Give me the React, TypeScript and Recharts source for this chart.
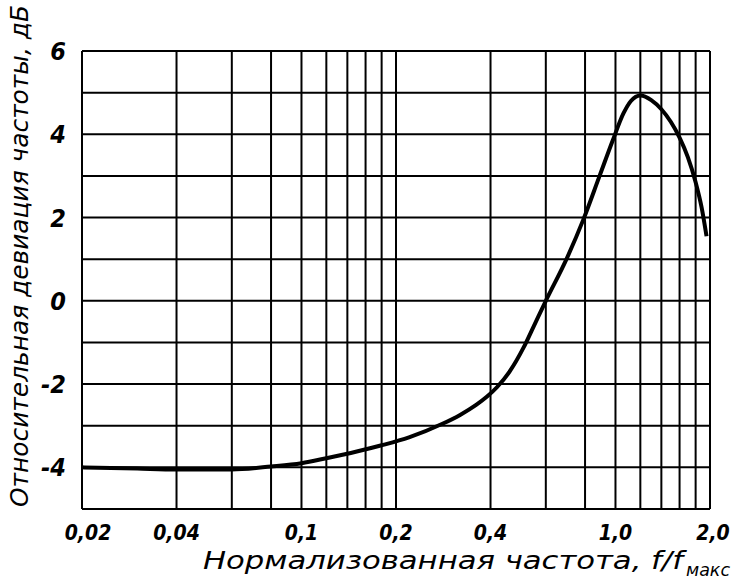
import React from "react";
import { LineChart, Line, XAxis, YAxis, CartesianGrid } from "recharts";

const freq = [0.02, 0.03, 0.04, 0.06, 0.08, 0.1, 0.12, 0.15, 0.18, 0.22, 0.28, 0.32, 0.36, 0.39, 0.42, 0.46, 0.51, 0.55, 0.6, 0.7, 0.79, 0.89, 0.98, 1.06, 1.12, 1.2, 1.3, 1.4, 1.5, 1.6, 1.7, 1.8, 1.88, 1.95];
const deviation = [-4.0, -4.03, -4.05, -4.05, -3.98, -3.9, -3.78, -3.62, -3.47, -3.28, -2.96, -2.74, -2.5, -2.3, -2.07, -1.7, -1.12, -0.6, 0.0, 1.02, 1.95, 3.0, 3.85, 4.5, 4.8, 4.93, 4.82, 4.6, 4.3, 3.92, 3.45, 2.85, 2.25, 1.55];

const xGrid = [0.02, 0.04, 0.06, 0.08, 0.1, 0.12, 0.14, 0.16, 0.18, 0.2, 0.4, 0.6, 0.8, 1.0, 1.2, 1.4, 1.6, 1.8, 2.0];
const xLabels: Record<string, string> = { "0.02": "0,02", "0.04": "0,04", "0.1": "0,1", "0.2": "0,2", "0.4": "0,4", "1": "1,0", "2": "2,0" };
const yGrid = [-5, -4, -3, -2, -1, 0, 1, 2, 3, 4, 5, 6];
const yLabels = [6, 4, 2, 0, -2, -4];

const xTitle = "Нормализованная частота, f/f";
const xTitleSub = "макс";
const yTitle = "Относительная девиация частоты, дБ";

const data = freq.map((f, i) => ({ f, v: deviation[i] }));

const FONT = "'DejaVu Sans Condensed', 'DejaVu Sans', sans-serif";

const XTick = (props: any) => {
  const { x, payload } = props;
  const lbl = xLabels[String(payload.value)];
  if (!lbl) return null;
  const dx = payload.value === 0.02 ? 6 : payload.value === 2 ? 3 : 0;
  return (
    <text x={x + dx} y={540} textAnchor="middle" fontFamily={FONT} fontStyle="italic" fontWeight="bold" fontSize={21} fill="#000">
      {lbl}
    </text>
  );
};

const YTick = (props: any) => {
  const { y, payload } = props;
  if (!yLabels.includes(payload.value)) return null;
  return (
    <text x={66} y={y} dy="0.36em" textAnchor="end" fontFamily={FONT} fontStyle="italic" fontWeight="bold" fontSize={25} fill="#000">
      {payload.value}
    </text>
  );
};

const XTitle = () => (
  <g>
    <text x={203} y={569} fontFamily={FONT} fontStyle="italic" fontSize={24} fill="#000" textLength={480} lengthAdjust="spacingAndGlyphs">
      {xTitle}
    </text>
    <text x={686} y={576} fontFamily={FONT} fontStyle="italic" fontSize={18} fill="#000" textLength={44} lengthAdjust="spacingAndGlyphs">
      {xTitleSub}
    </text>
  </g>
);

const YTitle = () => (
  <text transform="translate(28,507) rotate(-90)" x={0} y={0} fontFamily={FONT} fontStyle="italic" fontSize={25} fill="#000" textLength={502} lengthAdjust="spacingAndGlyphs">
    {yTitle}
  </text>
);

export default function App() {
  return (
    <div style={{ position: "absolute", left: 0, top: 0, width: 736, height: 581, background: "#fff" }}>
      <LineChart width={736} height={581} data={data} margin={{ top: 51, right: 26, bottom: 0, left: 0 }}>
        <CartesianGrid stroke="#000" strokeWidth={2} />
        <XAxis
          dataKey="f"
          type="number"
          scale="log"
          domain={[0.02, 2]}
          ticks={xGrid}
          interval={0}
          height={72}
          axisLine={false}
          tickLine={false}
          tick={<XTick />}
          allowDataOverflow
          label={{ content: () => <XTitle /> }}
        />
        <YAxis
          type="number"
          domain={[-5, 6]}
          ticks={yGrid}
          interval={0}
          width={82}
          axisLine={false}
          tickLine={false}
          tick={<YTick />}
          allowDataOverflow
          label={{ content: () => <YTitle /> }}
        />
        <Line dataKey="v" type="monotone" stroke="#000" strokeWidth={4} dot={false} isAnimationActive={false} />
      </LineChart>
    </div>
  );
}
